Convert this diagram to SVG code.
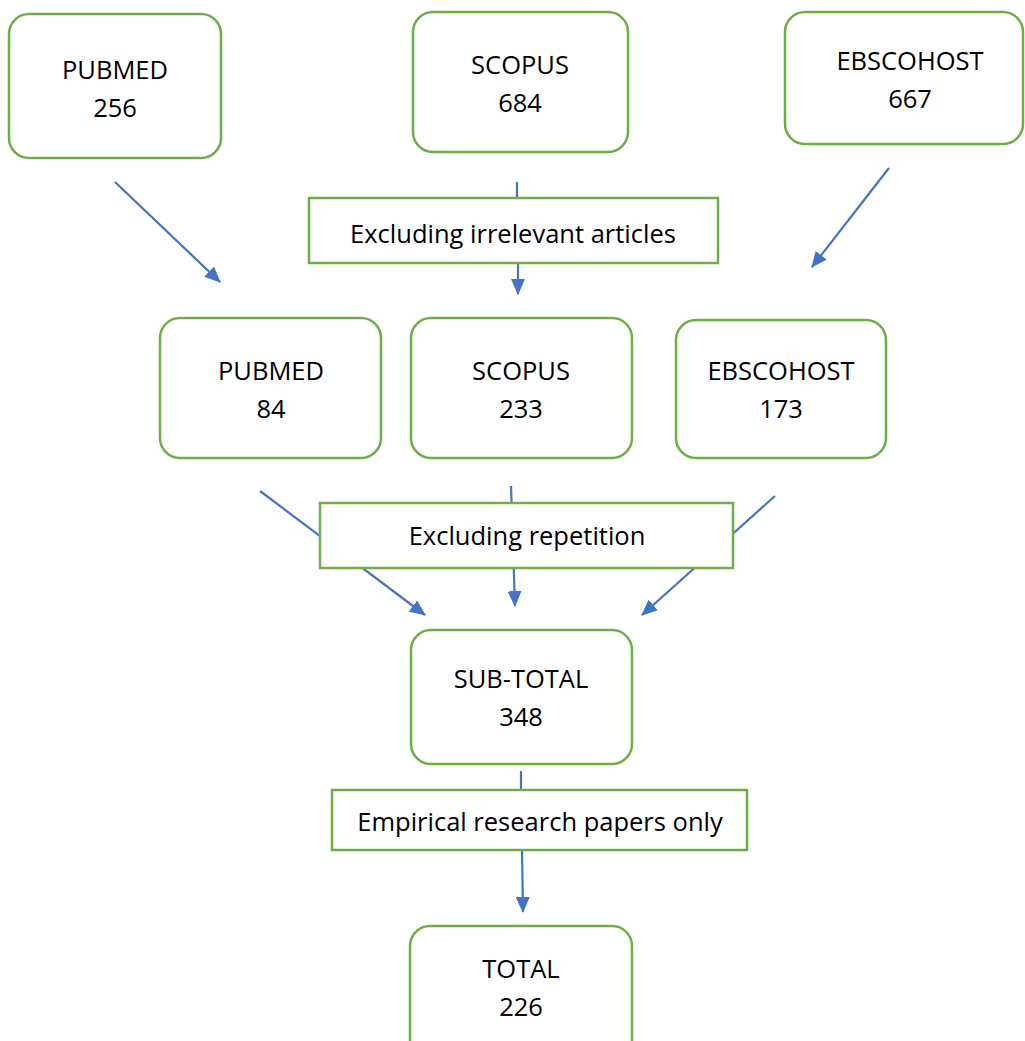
<svg xmlns="http://www.w3.org/2000/svg" width="1025" height="1041" viewBox="0 0 1025 1041">
<style>
.box{fill:#fff;stroke:#70AD47;stroke-width:2.5}
.t{font-family:"Open Sans","Liberation Sans",sans-serif;font-size:25.5px;fill:#000;text-anchor:middle}
.c{stroke:#4472C4;stroke-width:2.2;fill:none}
</style>
<defs>
<marker id="ah" viewBox="0 0 16 14" refX="15" refY="7" markerWidth="16" markerHeight="14" markerUnits="userSpaceOnUse" orient="auto">
<path d="M0,0 L16,7 L0,14 z" fill="#4472C4"/>
</marker>
</defs>
<rect width="1025" height="1041" fill="#fff"/>
<g id="connectors">
<path class="c" d="M115,182 L220,282" marker-end="url(#ah)"/>
<path class="c" d="M517,182 L517,198"/>
<path class="c" d="M518,263 L518,294" marker-end="url(#ah)"/>
<path class="c" d="M889,168 L812,267" marker-end="url(#ah)"/>
<path class="c" d="M260,491 L425,615" marker-end="url(#ah)"/>
<path class="c" d="M511,486 L515,606" marker-end="url(#ah)"/>
<path class="c" d="M775,496 L642,615" marker-end="url(#ah)"/>
<path class="c" d="M521,771 L521,790"/>
<path class="c" d="M522,850 L523,912" marker-end="url(#ah)"/>
</g>
<g id="pubmed1"><rect class="box" x="9" y="14" width="212" height="144" rx="20"/><text class="t" x="115" y="79">PUBMED</text><text class="t" x="115" y="117">256</text></g>
<g id="scopus1"><rect class="box" x="413" y="12" width="215" height="140" rx="20"/><text class="t" x="520" y="74">SCOPUS</text><text class="t" x="520" y="112">684</text></g>
<g id="ebsco1"><rect class="box" x="785" y="12" width="238" height="132" rx="20"/><text class="t" x="910" y="70">EBSCOHOST</text><text class="t" x="910" y="108">667</text></g>
<g id="filter1"><rect class="box" x="309" y="198" width="409" height="65"/><text class="t" x="513" y="243">Excluding irrelevant articles</text></g>
<g id="pubmed2"><rect class="box" x="160" y="318" width="221" height="140" rx="20"/><text class="t" x="271" y="380">PUBMED</text><text class="t" x="271" y="418">84</text></g>
<g id="scopus2"><rect class="box" x="411" y="318" width="221" height="140" rx="20"/><text class="t" x="521" y="380">SCOPUS</text><text class="t" x="521" y="418">233</text></g>
<g id="ebsco2"><rect class="box" x="676" y="320" width="210" height="138" rx="20"/><text class="t" x="781" y="380">EBSCOHOST</text><text class="t" x="781" y="418">173</text></g>
<g id="filter2"><rect class="box" x="320" y="503" width="413" height="65"/><text class="t" x="527" y="545">Excluding repetition</text></g>
<g id="subtotal"><rect class="box" x="411" y="630" width="221" height="134" rx="20"/><text class="t" x="521" y="688">SUB-TOTAL</text><text class="t" x="521" y="726">348</text></g>
<g id="filter3"><rect class="box" x="332" y="790" width="415" height="60"/><text class="t" x="540" y="831">Empirical research papers only</text></g>
<g id="total"><rect class="box" x="410" y="926" width="222" height="140" rx="20"/><text class="t" x="521" y="978">TOTAL</text><text class="t" x="521" y="1016">226</text></g>
</svg>
